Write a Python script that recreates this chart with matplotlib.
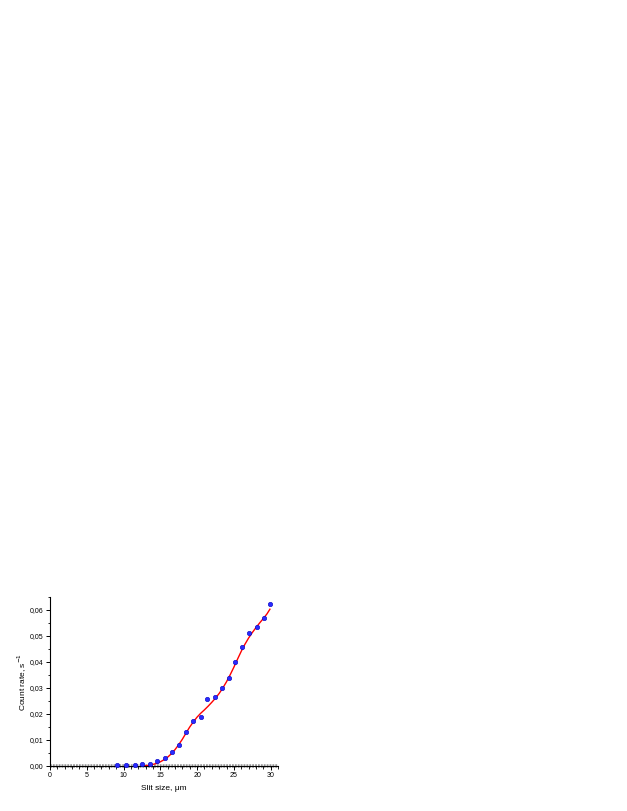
import matplotlib.pyplot as plt
import numpy as np
from matplotlib.ticker import MultipleLocator, FuncFormatter

# measured points
slit = [9.1, 10.35, 11.5, 12.5, 13.6, 14.55, 15.6, 16.6, 17.6, 18.55, 19.45, 20.5,
        21.4, 22.4, 23.4, 24.3, 25.2, 26.1, 27.1, 28.1, 29.05, 29.95]
rate = [0.0003, 0.0004, 0.0003, 0.0008, 0.0008, 0.0018, 0.0030, 0.0054, 0.0082, 0.0129,
        0.0173, 0.0190, 0.0257, 0.0265, 0.0301, 0.0339, 0.0399, 0.0458, 0.0512, 0.0535,
        0.0569, 0.0622]

# fitted curve (red line)
fit_x = [12.5, 13.0, 13.5, 14.0, 14.5, 15.0, 15.5, 16.0, 16.5, 17.0, 17.5, 18.0, 18.5,
         19.0, 19.5, 20.0, 20.5, 21.0, 21.5, 22.0, 22.5, 23.0, 23.5, 24.0, 24.5, 25.0,
         25.5, 26.0, 26.5, 27.0, 27.5, 28.0, 28.5, 29.0, 29.5, 29.9]
fit_y = [0.0, 0.0001, 0.0003, 0.0006, 0.0010, 0.0016, 0.0024, 0.0034, 0.0047, 0.0063,
         0.0082, 0.0103, 0.0127, 0.0150, 0.0170, 0.0188, 0.0203, 0.0216, 0.0230, 0.0245,
         0.0261, 0.0279, 0.0300, 0.0324, 0.0351, 0.0380, 0.0411, 0.0441, 0.0468, 0.0492,
         0.0513, 0.0532, 0.0550, 0.0567, 0.0585, 0.0603]

plt.rcParams['font.family'] = ['Liberation Sans', 'DejaVu Sans']

fig = plt.figure(figsize=(6.27, 8.11), dpi=100)
ax = fig.add_axes([0.0797, 0.0555, 0.3637, 0.2084])

# gray zero band
ax.axhline(0, color='0.6', lw=2.6, ls=(0, (0.5, 0.3)), zorder=1, clip_on=False)
ax.plot(fit_x, fit_y, color='red', lw=1.0, zorder=2)
ax.plot(slit, rate, 'o', ms=3.2, color='#2a2aff', mec='#0000c0', mew=0.4, zorder=3,
        clip_on=False)

ax.set_xlim(0, 31)
ax.set_ylim(0, 0.065)
ax.xaxis.set_major_locator(MultipleLocator(5))
ax.xaxis.set_minor_locator(MultipleLocator(1))
ax.yaxis.set_major_locator(MultipleLocator(0.01))
ax.yaxis.set_minor_locator(MultipleLocator(0.005))
ax.yaxis.set_major_formatter(FuncFormatter(lambda v, p: f'{v:.2f}'.replace('.', ',')))

for s in ['top', 'right']:
    ax.spines[s].set_visible(False)
for s in ['left', 'bottom']:
    ax.spines[s].set_linewidth(0.8)
ax.tick_params(which='major', length=3, width=0.7, labelsize=5, pad=1.5)
ax.tick_params(which='minor', length=1.8, width=0.6)

ax.set_xlabel('Slit size, \u03bcm', fontsize=6, labelpad=4)
ax.set_ylabel('Count rate, s$^{-1}$', fontsize=6, labelpad=1)

fig.savefig('out.png', dpi=100)
